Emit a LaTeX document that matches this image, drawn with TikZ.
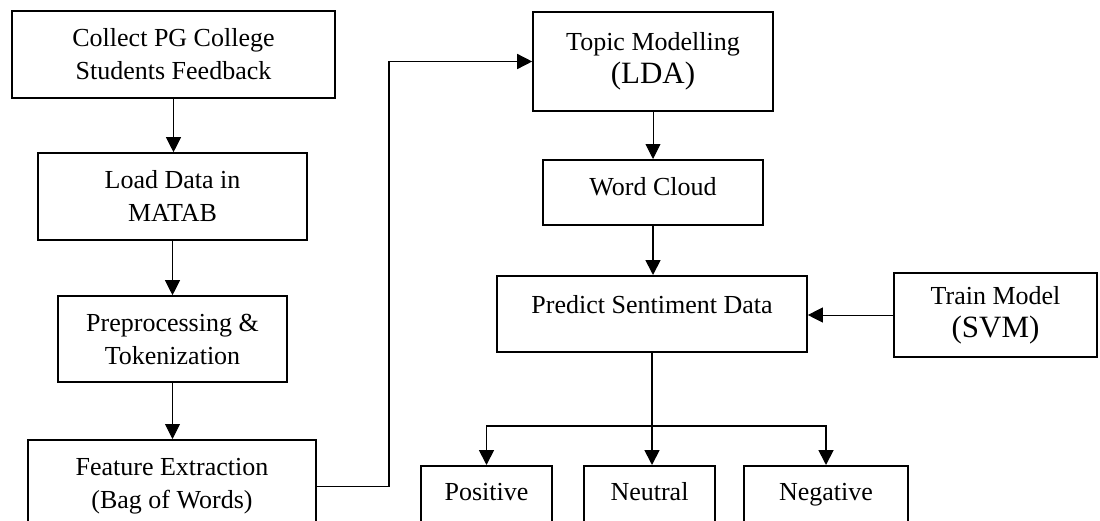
\documentclass[tikz,border=0pt]{standalone}
\usepackage{fontspec}
\setmainfont{Liberation Serif}
\usetikzlibrary{arrows.meta}
\tikzset{
  box/.style={draw, line width=1.6pt, inner sep=0pt, align=center,
    font=\fontsize{26}{33}\selectfont},
  thinarrow/.style={line width=0.9pt, -{Triangle[length=15pt,width=15pt]}},
  thickarrow/.style={line width=1.8pt, -{Triangle[length=15pt,width=15pt]}}
}
\begin{document}
\begin{tikzpicture}[x=1pt,y=-1pt]
\useasboundingbox (0,0) rectangle (1100,520);
\fill[white] (0,0) rectangle (1100,520);
\clip (0,0) rectangle (1100,520);
% left column
\node[box, minimum width=323, minimum height=87] (collect) at (173.5,54.5)
  {Collect PG College\\Students Feedback};
\node[box, minimum width=269, minimum height=87] (load) at (172.5,196.5)
  {Load Data in\\MATAB};
\node[box, minimum width=229, minimum height=86] (prep) at (172.5,339)
  {Preprocessing \&\\Tokenization};
\node[box, minimum width=288, minimum height=93, anchor=north] (feat) at (172,439)
  {Feature Extraction\\(Bag of Words)};
% middle column
\node[box, minimum width=240, minimum height=99] (topic) at (653,61.5)
  {Topic Modelling\\{\fontsize{31}{33}\selectfont (LDA)}};
\node[box, minimum width=220, text height=36pt, text depth=29pt, anchor=north] (word) at (653,159)
  {Word Cloud};
\node[box, minimum width=310, text height=38pt, text depth=38pt, anchor=north] (pred) at (652,275)
  {Predict Sentiment Data};
\node[box, minimum width=203, minimum height=84] (train) at (995.5,315)
  {Train Model\\{\fontsize{31}{33}\selectfont (SVM)}};
% outputs
\node[box, minimum width=131, text height=35pt, text depth=30pt, anchor=north] (pos) at (486.5,465) {Positive};
\node[box, minimum width=131, text height=35pt, text depth=30pt, anchor=north] (neu) at (649.5,465) {Neutral};
\node[box, minimum width=164, text height=35pt, text depth=30pt, anchor=north] (neg) at (826,465) {Negative};
% connectors
\draw[thinarrow] (collect.south) -- (collect.south |- load.north);
\draw[thinarrow] (load.south) -- (load.south |- prep.north);
\draw[thinarrow] (prep.south) -- (prep.south |- feat.north);
\coordinate (bend) at (389,0);
\draw[line width=1.5pt, -{Triangle[length=15pt,width=15pt]}]
  (feat.east) -| (bend |- topic.west) -- (topic.west);
\draw[thinarrow] (topic.south) -- (topic.south |- word.north);
\draw[thickarrow] (word.south) -- (word.south |- pred.north);
\draw[thinarrow] (train.west) -- (train.west -| pred.east);
\draw[thickarrow] (pred.south) -- (pred.south |- neu.north);
\coordinate (br) at (652,426);
\draw[thickarrow] (br) -| (pos.north);
\draw[thickarrow] (br) -| (neg.north);
\end{tikzpicture}
\end{document}
